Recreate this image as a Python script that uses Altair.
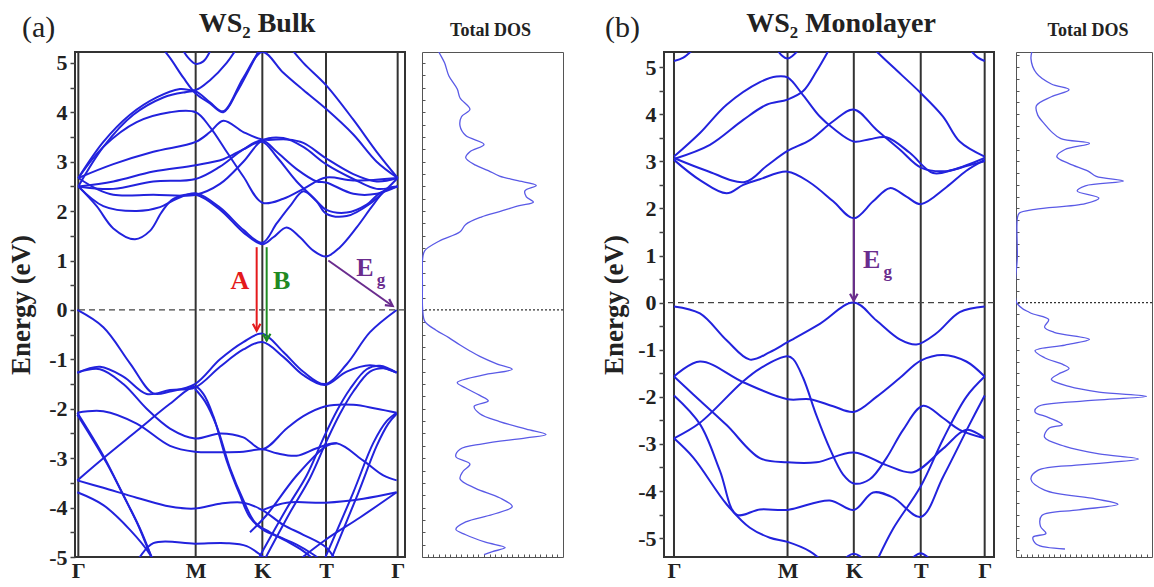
import altair as alt
import pandas as pd

SERIF = "Liberation Serif"
BAND_BLUE = "#2222dd"
DOS_BLUE = "#5a5ae6"
FRAME = "#333333"
TXT = "#222222"

# ---------------- axes / k-path ----------------
K_NAMES = ["Γ", "M", "K", "T", "Γ"]
K_TICKS_A = [25, 377, 577, 768, 983]
K_TICKS_B = [42, 383, 582, 783, 975]
K_DOMAIN_A = [15, 1005]
K_DOMAIN_B = [12, 1003]
E_DOMAIN_A = [-5.0, 5.22]
E_DOMAIN_B = [-5.4, 5.32]
E_TICKS = [-5, -4.5, -4, -3.5, -3, -2.5, -2, -1.5, -1, -0.5, 0,
           0.5, 1, 1.5, 2, 2.5, 3, 3.5, 4, 4.5, 5]
E_MINOR = [-5.25, -5, -4.75, -4.5, -4.25, -4, -3.75, -3.5, -3.25, -3, -2.75, -2.5,
           -2.25, -2, -1.75, -1.5, -1.25, -1, -0.75, -0.5, -0.25, 0, 0.25, 0.5,
           0.75, 1, 1.25, 1.5, 1.75, 2, 2.25, 2.5, 2.75, 3, 3.25, 3.5, 3.75, 4,
           4.25, 4.5, 4.75, 5, 5.25]
DOS_TICKS = [0.04, 0.08, 0.12, 0.16, 0.2, 0.24, 0.28, 0.32, 0.36, 0.4, 0.44, 0.48,
             0.52, 0.56, 0.6, 0.64, 0.68, 0.72, 0.76, 0.8, 0.84, 0.88, 0.92, 0.96]

# ---------------- (a) WS2 bulk: conduction bands (k, E) ----------------
A_C1 = [(25, 2.5), (80, 2.1), (130, 1.65), (195, 1.43), (240, 1.6), (275, 1.98), (310, 2.25),
        (377, 2.33), (450, 2.03), (520, 1.57), (577, 1.33), (610, 1.47), (650, 1.67), (690, 1.47),
        (730, 1.2), (768, 1.08), (810, 1.27), (860, 1.67), (910, 2.13), (950, 2.45), (983, 2.5)]
A_C2 = [(25, 2.5), (100, 2.1), (200, 2.0), (270, 2.08), (320, 2.25), (377, 2.36), (450, 2.07),
        (520, 1.62), (577, 1.36), (620, 1.75), (660, 2.1), (700, 2.4), (740, 2.2), (768, 2.03),
        (830, 1.97), (890, 2.13), (930, 2.37), (983, 2.5)]
A_C3 = [(25, 2.67), (80, 2.45), (130, 2.33), (250, 2.33), (377, 2.33), (450, 2.55), (520, 3.0),
        (577, 3.43), (640, 3.48), (700, 3.3), (768, 2.95), (850, 2.65), (920, 2.45), (983, 2.5)]
A_C4 = [(25, 2.5), (130, 2.45), (250, 2.6), (377, 2.65), (450, 2.9), (520, 3.25), (577, 3.43),
        (620, 3.2), (680, 2.85), (740, 2.6), (768, 2.58), (850, 2.35), (920, 2.35), (983, 2.5)]
A_C5 = [(25, 2.5), (130, 2.6), (250, 2.8), (377, 2.93), (460, 3.05), (520, 3.25), (577, 3.4),
        (620, 3.1), (680, 2.6), (740, 2.2), (768, 1.95), (830, 1.9), (900, 2.15), (983, 2.67)]
A_C6 = [(25, 2.67), (130, 2.95), (250, 3.2), (377, 3.4), (420, 3.6), (460, 3.83), (520, 3.6),
        (577, 3.45), (650, 3.45), (700, 3.38), (768, 3.07), (850, 2.75), (920, 2.6), (983, 2.67)]
A_C7 = [(25, 2.67), (100, 3.3), (200, 3.8), (300, 4.0), (377, 4.0), (420, 3.7), (470, 3.2),
        (520, 2.7), (577, 2.17), (640, 2.25), (700, 2.45), (768, 2.68), (850, 2.62), (983, 2.67)]
A_C8 = [(25, 2.67), (100, 3.4), (180, 3.95), (260, 4.3), (330, 4.47), (377, 4.45), (420, 4.65),
        (470, 5.0), (510, 5.4)]
A_C9 = [(25, 2.5), (100, 3.3), (190, 3.95), (280, 4.3), (340, 4.4), (377, 4.42), (420, 4.2),
        (460, 4.02), (520, 4.7), (577, 5.22), (640, 4.8), (700, 4.45), (768, 4.07), (850, 3.55),
        (920, 3.0), (983, 2.67)]
A_C10 = [(265, 5.4), (300, 5.1), (340, 4.7), (377, 4.38), (420, 4.18), (460, 4.0), (500, 4.4),
         (540, 4.9), (570, 5.3)]
A_C11 = [(335, 5.3), (355, 5.1), (377, 4.98), (400, 5.03), (425, 5.3)]
A_C12 = [(650, 5.4), (700, 5.0), (768, 4.55), (850, 3.85), (920, 3.2), (983, 2.67)]

# ---------------- (a) WS2 bulk: valence bands (k, E) ----------------
A_V1 = [(22, 0.0), (100, -0.35), (180, -1.08), (250, -1.69), (300, -1.65), (375, -1.5), (450, -1.0),
        (520, -0.65), (577, -0.48), (640, -0.85), (700, -1.25), (765, -1.5), (830, -1.1),
        (900, -0.45), (980, 0.0)]
A_V2 = [(22, -1.27), (90, -1.15), (160, -1.35), (230, -1.7), (300, -1.62), (375, -1.57),
        (450, -1.15), (520, -0.8), (577, -0.65), (640, -0.95), (700, -1.32), (765, -1.52),
        (830, -1.25), (900, -1.12), (980, -1.27)]
A_V3 = [(22, -1.27), (90, -1.2), (160, -1.5), (230, -2.0), (300, -2.4), (375, -2.6), (450, -2.5),
        (520, -2.58), (577, -2.82), (650, -2.4), (700, -2.15), (767, -1.95), (850, -1.92),
        (920, -2.0), (980, -2.08)]
A_V4 = [(22, -2.08), (100, -2.05), (200, -2.3), (300, -2.75), (375, -2.87), (450, -2.88),
        (520, -2.87), (577, -2.82), (620, -2.9), (680, -2.95), (740, -2.8), (800, -2.7),
        (880, -3.05), (940, -3.35), (980, -3.45)]
A_V5 = [(22, -3.45), (100, -3.0), (200, -2.45), (300, -1.9), (375, -1.55), (400, -1.7),
        (430, -2.15), (470, -3.05), (510, -3.75), (540, -4.2), (580, -4.45), (630, -4.6),
        (680, -4.75), (730, -4.95), (760, -5.1)]
A_V6 = [(375, -1.6), (405, -1.85), (440, -2.35), (480, -3.2), (520, -3.85), (555, -4.3),
        (600, -4.5), (650, -4.68), (700, -4.88), (740, -5.1)]
A_V7 = [(22, -3.45), (100, -3.6), (200, -3.8), (300, -3.98), (375, -4.02), (450, -3.92),
        (520, -3.9), (577, -4.05), (640, -4.35), (700, -4.55), (767, -4.8), (800, -5.1)]
A_V8 = [(22, -3.69), (100, -3.95), (180, -4.45), (240, -4.95), (250, -5.1)]
A_V9 = [(200, -5.1), (250, -4.72), (375, -4.73), (470, -4.72), (530, -4.78), (580, -5.0),
        (600, -5.1)]
A_V10 = [(560, -5.1), (650, -4.02), (710, -3.35), (760, -2.6), (800, -2.05), (840, -1.6),
         (890, -1.2), (930, -1.13), (980, -1.27)]
A_V11 = [(580, -5.1), (660, -4.1), (720, -3.4), (770, -2.65), (810, -2.1), (850, -1.65),
         (900, -1.25), (940, -1.18), (980, -1.27)]
A_V12 = [(540, -4.5), (590, -4.15), (680, -3.35), (770, -2.75), (800, -2.7)]
A_V13 = [(760, -5.1), (850, -3.69), (910, -2.69), (950, -2.25), (980, -2.08)]
A_V14 = [(780, -5.1), (865, -3.7), (920, -2.75), (955, -2.3), (980, -2.1)]
A_V15 = [(22, -2.08), (100, -2.95), (160, -3.75), (200, -4.29), (245, -5.0), (255, -5.1)]
A_V16 = [(22, -2.12), (110, -3.1), (175, -3.95), (215, -4.5), (250, -5.1)]
A_V17 = [(577, -4.05), (650, -3.9), (767, -3.9), (880, -3.82), (980, -3.69)]
A_V18 = [(680, -5.1), (767, -4.65), (870, -4.2), (980, -3.69)]

BANDS_A = [A_C1, A_C2, A_C3, A_C4, A_C5, A_C6, A_C7, A_C8, A_C9, A_C10, A_C11, A_C12,
           A_V1, A_V2, A_V3, A_V4, A_V5, A_V6, A_V7, A_V8, A_V9, A_V10, A_V11, A_V12,
           A_V13, A_V14, A_V15, A_V16, A_V17, A_V18]

# ---------------- (b) WS2 monolayer: bands (k, E) ----------------
B_C1 = [(42, 3.03), (120, 2.6), (200, 2.32), (250, 2.5), (300, 2.62), (383, 2.78), (450, 2.55),
        (520, 2.15), (582, 1.79), (640, 2.15), (690, 2.43), (740, 2.25), (783, 2.09), (860, 2.45),
        (920, 2.8), (975, 3.03)]
B_C2 = [(42, 3.07), (140, 2.8), (255, 2.56), (320, 2.9), (383, 3.22), (450, 3.45), (520, 3.85),
        (582, 4.1), (650, 3.67), (720, 3.25), (785, 2.86), (860, 2.79), (920, 2.9), (975, 3.0)]
B_C3 = [(42, 3.1), (120, 3.6), (200, 4.2), (300, 4.68), (350, 4.8), (383, 4.78), (430, 4.4),
        (480, 3.95), (520, 3.7), (582, 3.42), (630, 3.47), (680, 3.51), (750, 3.18), (820, 2.75),
        (880, 2.82), (975, 3.07)]
B_C4 = [(42, 3.05), (150, 3.35), (250, 3.88), (320, 4.2), (383, 4.31), (430, 4.49), (470, 4.91),
        (510, 5.4)]
B_C5 = [(640, 5.4), (700, 5.0), (783, 4.45), (850, 3.95), (900, 3.42), (975, 3.1)]
B_C6 = [(42, 5.13), (70, 5.2), (100, 5.38)]
B_C7 = [(350, 5.4), (365, 5.25), (383, 5.18), (400, 5.25), (420, 5.4)]
B_C8 = [(930, 5.38), (955, 5.2), (975, 5.13)]
B_V1 = [(42, -0.08), (120, -0.23), (200, -0.8), (270, -1.21), (330, -1.05), (383, -0.84),
        (480, -0.45), (582, 0.0), (650, -0.38), (720, -0.78), (770, -0.89), (830, -0.65),
        (900, -0.2), (975, -0.08)]
B_V2 = [(42, -1.57), (120, -1.25), (250, -1.69), (383, -2.05), (450, -2.05), (520, -2.2),
        (582, -2.32), (650, -2.0), (720, -1.6), (783, -1.23), (850, -1.11), (920, -1.25),
        (975, -1.57)]
B_V3 = [(42, -2.88), (120, -2.55), (245, -1.7), (300, -1.4), (383, -1.14), (400, -1.2),
        (430, -1.6), (470, -2.4), (510, -3.1), (550, -3.65), (582, -3.84), (630, -3.75),
        (680, -3.3), (730, -2.7), (790, -2.19), (850, -2.45), (900, -2.7), (975, -2.88)]
B_V4 = [(42, -1.57), (100, -1.95), (200, -2.6), (300, -3.3), (383, -3.39), (470, -3.39),
        (582, -3.18), (680, -3.45), (760, -3.6), (850, -3.1), (920, -2.7), (975, -2.88)]
B_V5 = [(42, -1.97), (120, -2.58), (180, -3.57), (230, -4.5), (300, -4.39), (383, -4.4),
        (510, -4.2), (582, -4.4), (640, -4.03), (700, -4.14), (783, -4.55), (850, -3.7),
        (930, -2.58), (975, -1.97)]
B_V6 = [(42, -2.88), (100, -3.29), (200, -4.28), (270, -4.78), (330, -4.99), (383, -5.08),
        (450, -5.28), (490, -5.5)]
B_V7 = [(650, -5.5), (700, -4.8), (783, -3.9), (850, -2.9), (920, -2.0), (975, -1.57)]
B_V8 = [(550, -5.5), (565, -5.38), (582, -5.33), (600, -5.38), (615, -5.5)]
B_V9 = [(750, -5.5), (765, -5.38), (783, -5.32), (800, -5.38), (815, -5.5)]

BANDS_B = [B_C1, B_C2, B_C3, B_C4, B_C5, B_C6, B_C7, B_C8,
           B_V1, B_V2, B_V3, B_V4, B_V5, B_V6, B_V7, B_V8, B_V9]

# ---------------- total DOS (E, states in arb. units) ----------------
DOS_A_E = [5.3, 5.22, 5.0, 4.74, 4.47, 4.29, 4.06, 3.91, 3.72, 3.53, 3.35, 3.2, 3.08, 2.93, 2.82,
           2.71, 2.62, 2.52, 2.41, 2.29, 2.18, 2.11, 1.99, 1.88, 1.73, 1.58, 1.39, 1.2, 1.05, 0.5,
           0.0, -0.23, -0.41, -0.56, -0.71, -0.83, -0.94, -1.09, -1.2, -1.32, -1.47, -1.58,
           -1.73, -1.84, -1.95, -2.1, -2.26, -2.41, -2.52, -2.59, -2.71, -2.82, -2.97, -3.12,
           -3.27, -3.42, -3.61, -3.8, -3.98, -4.14, -4.29, -4.44, -4.55, -4.7, -4.81, -4.89, -4.95]
DOS_A_N = [0.11, 0.12, 0.16, 0.19, 0.25, 0.27, 0.34, 0.28, 0.27, 0.31, 0.44, 0.34, 0.31, 0.38,
           0.47, 0.55, 0.67, 0.81, 0.73, 0.74, 0.79, 0.69, 0.55, 0.42, 0.31, 0.27, 0.12, 0.02,
           0.005, 0.003, 0.005, 0.02, 0.1, 0.19, 0.27, 0.34, 0.41, 0.53, 0.64, 0.43, 0.25, 0.31,
           0.41, 0.47, 0.37, 0.41, 0.55, 0.74, 0.88, 0.74, 0.43, 0.27, 0.24, 0.34, 0.29, 0.27,
           0.38, 0.55, 0.64, 0.5, 0.31, 0.24, 0.31, 0.45, 0.59, 0.5, 0.44]
DOS_B_E = [5.45, 5.18, 4.87, 4.64, 4.52, 4.37, 4.18, 3.98, 3.79, 3.63, 3.48, 3.38, 3.25, 3.1,
           2.95, 2.79, 2.68, 2.58, 2.48, 2.37, 2.22, 2.1, 1.98, 1.9, 1.79, 1.0, 0.0, -0.21,
           -0.36, -0.52, -0.63, -0.78, -0.9, -1.02, -1.17, -1.32, -1.4, -1.52, -1.63, -1.78,
           -1.9, -1.99, -2.09, -2.21, -2.32, -2.44, -2.59, -2.67, -2.86, -3.05, -3.21, -3.32,
           -3.44, -3.56, -3.75, -3.98, -4.17, -4.28, -4.4, -4.52, -4.75, -4.9, -4.98, -5.13, -5.23]
DOS_B_N = [0.13, 0.11, 0.15, 0.26, 0.39, 0.26, 0.15, 0.16, 0.21, 0.26, 0.33, 0.54, 0.36, 0.3,
           0.39, 0.53, 0.59, 0.79, 0.51, 0.45, 0.61, 0.51, 0.14, 0.025, 0.01, 0.01, 0.005, 0.1,
           0.24, 0.21, 0.28, 0.54, 0.36, 0.14, 0.21, 0.35, 0.39, 0.31, 0.26, 0.39, 0.61, 0.96,
           0.49, 0.16, 0.14, 0.24, 0.34, 0.24, 0.21, 0.36, 0.61, 0.9, 0.49, 0.16, 0.11, 0.21,
           0.59, 0.75, 0.46, 0.19, 0.18, 0.22, 0.125, 0.15, 0.36]

# ---------------- annotations ----------------
RED, GREEN, PURPLE = "#e41a1c", "#1f8a22", "#6a2c8e"
# arrows: (k_start, E_start, k_end, E_end, colour, head angle)
ARROWS_A = [(560, 1.27, 560, -0.42, RED, 0), (590, 1.27, 590, -0.62, GREEN, 0),
            (775, 1.0, 968, 0.08, PURPLE, 305)]
ARROWS_B = [(582, 1.78, 582, 0.04, PURPLE, 0)]
# labels: (k, E, text, colour, size)
LABELS_A = [(510, 0.58, "A", RED, 26), (635, 0.58, "B", GREEN, 26),
            (885, 0.84, "E", PURPLE, 26), (933, 0.6, "g", PURPLE, 17)]
LABELS_B = [(636, 0.9, "E", PURPLE, 26), (684, 0.65, "g", PURPLE, 17)]

# panel widths and gaps between plot frames (pixels)
W_BAND, W_DOS_A, W_DOS_B, H_PLOT = 330, 141, 136, 505
GAP_A, GAP_MID, GAP_B = 17, 101, 22

CHEVRON = "M-0.55,-1L0,0L0.55,-1"


def bands_frame(bands):
    rows = []
    for b, pts in enumerate(bands):
        for i, (k, e) in enumerate(pts):
            rows.append({"band": b, "i": i, "k": k, "E": e})
    return pd.DataFrame(rows)


def band_panel(bands, kt, kdom, edom, title, title_dx, letter, letter_x, title_pad,
               arrows, labels):
    xs = alt.Scale(domain=kdom, nice=False, zero=False)
    ys = alt.Scale(domain=edom, nice=False, zero=False)
    label_expr = " : ".join(f"datum.value == {k} ? '{n}'" for k, n in zip(kt, K_NAMES)) + " : ''"
    xaxis = alt.Axis(values=kt, labelExpr=label_expr, title=None, ticks=False, domain=False,
                     grid=False, labelFont=SERIF, labelFontSize=22, labelFontWeight="bold",
                     labelColor=TXT, labelPadding=3, labelFlush=False, labelOverlap=False)
    yaxis = alt.Axis(values=E_TICKS, labelExpr="datum.value % 1 == 0 ? '' + datum.value : ''",
                     title="Energy (eV)", titleFont=SERIF, titleFontSize=27, titleFontWeight="bold",
                     titleColor=TXT, labelFont=SERIF, labelFontSize=22, labelFontWeight="bold",
                     labelColor=TXT, tickSize=5, tickColor="#444", tickWidth=1.5, domain=False,
                     grid=False, labelPadding=3, titlePadding=title_pad, labelOverlap=False)
    X = lambda f: alt.X(f, scale=xs, axis=xaxis)
    Y = lambda f: alt.Y(f, scale=ys, axis=yaxis)

    rules = alt.Chart(pd.DataFrame({"k": kt})).mark_rule(color=FRAME, strokeWidth=2).encode(
        x=X("k:Q"))
    zero = alt.Chart(pd.DataFrame({"E": [0.0]})).mark_rule(
        color="#444", strokeDash=[6, 4], strokeWidth=1.3).encode(y=Y("E:Q"))
    lines = alt.Chart(bands_frame(bands)).mark_line(
        color=BAND_BLUE, strokeWidth=2, clip=True, interpolate="catmull-rom").encode(
        x=X("k:Q"), y=Y("E:Q"), detail="band:N", order="i:Q")
    adf = pd.DataFrame(arrows, columns=["k0", "e0", "k1", "e1", "c", "a"])
    shafts = alt.Chart(adf).mark_rule(strokeWidth=2).encode(
        x=X("k0:Q"), y=Y("e0:Q"), x2="k1:Q", y2="e1:Q", color=alt.Color("c:N", scale=None))
    heads = alt.Chart(adf).mark_point(shape=CHEVRON, filled=False, strokeWidth=2.2, size=190,
                                      opacity=1).encode(
        x=X("k1:Q"), y=Y("e1:Q"), color=alt.Color("c:N", scale=None),
        angle=alt.Angle("a:Q", scale=None))
    ldf = pd.DataFrame(labels, columns=["k", "E", "t", "c", "s"])
    texts = alt.Chart(ldf).mark_text(font=SERIF, fontWeight="bold").encode(
        x=X("k:Q"), y=Y("E:Q"), text="t:N", color=alt.Color("c:N", scale=None),
        size=alt.Size("s:Q", scale=None))
    tag = alt.Chart(pd.DataFrame({"t": [letter]})).mark_text(
        font=SERIF, fontSize=30, align="left", baseline="middle", color=TXT).encode(
        x=alt.value(letter_x), y=alt.value(-24), text="t:N")
    head = alt.Chart(pd.DataFrame({"t": [title]})).mark_text(
        font=SERIF, fontSize=28, fontWeight="bold", align="center", baseline="middle",
        color=TXT).encode(x=alt.value(W_BAND / 2 + title_dx), y=alt.value(-28), text="t:N")
    return alt.layer(rules, zero, lines, shafts, heads, texts, tag, head).properties(
        width=W_BAND, height=H_PLOT)


def dos_panel(E, N, edom, width, title_dx):
    ys = alt.Scale(domain=edom, nice=False, zero=False)
    xs = alt.Scale(domain=[0, 1], nice=False, zero=False)
    xaxis = alt.Axis(values=DOS_TICKS, labels=False, title=None, tickSize=3, offset=-3,
                     domain=False, grid=False, tickColor="#555")
    yaxis = alt.Axis(values=E_MINOR, labels=False, title=None, tickSize=3, offset=-3,
                     domain=False, grid=False, tickColor="#555")
    df = pd.DataFrame({"E": E, "N": N, "i": list(range(len(E)))})
    line = alt.Chart(df).mark_line(color=DOS_BLUE, strokeWidth=1.3, clip=True,
                                   interpolate="catmull-rom").encode(
        x=alt.X("N:Q", scale=xs, axis=xaxis), y=alt.Y("E:Q", scale=ys, axis=yaxis), order="i:Q")
    zero = alt.Chart(pd.DataFrame({"E": [0.0]})).mark_rule(
        color="#333", strokeDash=[2, 2], strokeWidth=1.2).encode(
        y=alt.Y("E:Q", scale=ys, axis=yaxis))
    head = alt.Chart(pd.DataFrame({"t": ["Total DOS"]})).mark_text(
        font=SERIF, fontSize=18, fontWeight="bold", align="center", baseline="middle",
        color=TXT).encode(x=alt.value(width / 2 + title_dx), y=alt.value(-21), text="t:N")
    return alt.layer(zero, line, head).properties(
        width=width, height=H_PLOT,
        view=alt.ViewBackground(stroke="#555", strokeWidth=1))


def spacer(width):
    return alt.Chart(pd.DataFrame({"a": [0]})).mark_point(opacity=0).encode(
        x=alt.X("a:Q", axis=None), y=alt.Y("a:Q", axis=None)).properties(
        width=width, height=H_PLOT, view=alt.ViewBackground(stroke="transparent"))


band_a = band_panel(BANDS_A, K_TICKS_A, K_DOMAIN_A, E_DOMAIN_A, "WS₂ Bulk", 17, "(a)", -53, 13,
                    ARROWS_A, LABELS_A)
dos_a = dos_panel(DOS_A_E, DOS_A_N, E_DOMAIN_A, W_DOS_A, -2)
band_b = band_panel(BANDS_B, K_TICKS_B, K_DOMAIN_B, E_DOMAIN_B, "WS₂ Monolayer", 12, "(b)", -59, 9,
                    ARROWS_B, LABELS_B)
dos_b = dos_panel(DOS_B_E, DOS_B_N, E_DOMAIN_B, W_DOS_B, 4)

chart = alt.hconcat(band_a, spacer(GAP_A), dos_a, spacer(GAP_MID), band_b, spacer(GAP_B), dos_b,
                    spacing=0, bounds="flush").properties(
    padding={"left": 6, "top": 9, "right": 0, "bottom": 0},
    background="white",
).configure_view(stroke=FRAME, strokeWidth=2)

chart.save("out.html", embed_options={"renderer": "svg", "actions": False})
